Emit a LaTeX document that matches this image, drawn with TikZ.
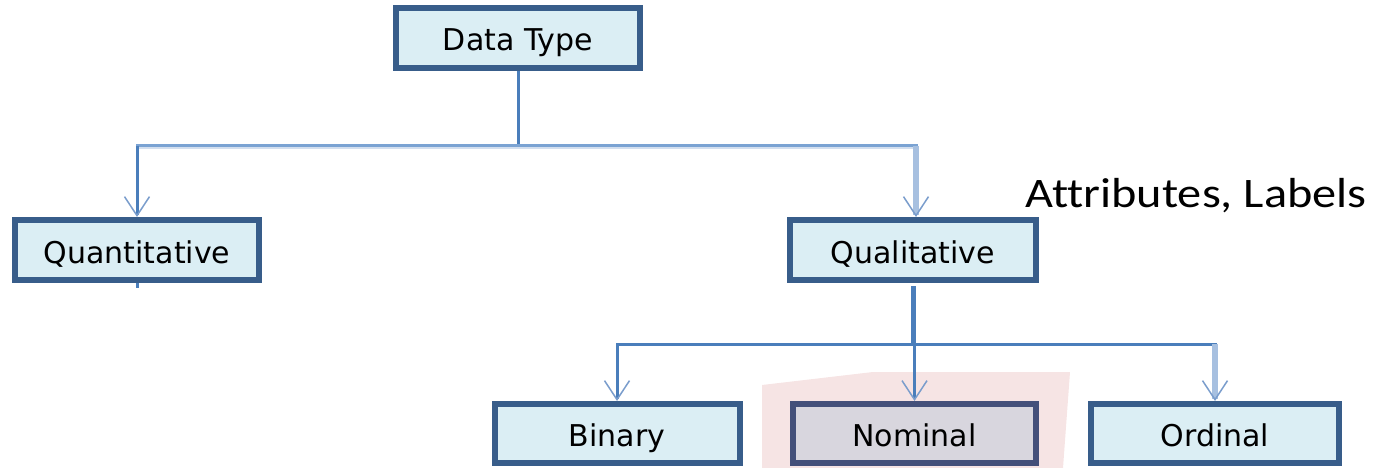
\documentclass[tikz,border=0pt]{standalone}
\usepackage{fontspec}
\setmainfont{DejaVu Sans}
\newfontfamily\labelfont[Ligatures=NoCommon]{Carlito}
\usetikzlibrary{arrows.meta}

\definecolor{boxline}{HTML}{385D8A}
\definecolor{boxfill}{HTML}{DBEEF4}
\definecolor{selline}{HTML}{44507A}
\definecolor{selfill}{HTML}{D8D6DE}
\definecolor{linkblue}{HTML}{4A7EBB}
\definecolor{linklight}{HTML}{A7C0E0}
\definecolor{linkmid}{HTML}{7BA3D3}
\definecolor{linkshade}{HTML}{D3DFEF}
\definecolor{tipcol}{HTML}{7A9DCC}
\definecolor{haze}{HTML}{F6E4E4}

\begin{document}
\begin{tikzpicture}[x=1pt,y=-1pt,
  box/.style={draw=boxline, fill=boxfill, line width=6pt,
    minimum width=244pt, minimum height=60pt, inner sep=0pt,
    text height=30pt, text depth=4pt,
    font=\fontsize{30}{36}\selectfont, text=black},
  sel/.style={box, draw=selline, fill=selfill},
  conn/.style={draw=linkblue, line width=3pt},
  lightconn/.style={draw=linklight, line width=6pt},
  arrowv/.style={-{Straight Barb[length=19pt,width=25pt,line width=1.5pt,color=tipcol]}},
]
\useasboundingbox (0,0) rectangle (1381,468);

% highlight patch behind the selected leaf
\fill[haze] (762,468) -- (762,385) -- (873,372) -- (1070,372) -- (1063,468) -- cycle;

% boxes
\node[box] (dt) at (518,38) {Data Type};
\node[box] (quant) at (137,250) {Quantitative};
\node[box, minimum width=246pt] (qual) at (913,250) {Qualitative};
\node[box, minimum width=245pt, minimum height=59pt] (bin) at (617,433.5) {Binary};
\node[sel, minimum width=243pt, minimum height=59pt] (nom) at (914.5,433.5) {Nominal};
\node[box, minimum width=248pt, minimum height=59pt] (ord) at (1215,433.5) {Ordinal};

% side label
\node[font=\labelfont\fontsize{42}{48}\selectfont, anchor=base west,
  xscale=1.15, inner sep=0pt] (attr) at (1025,207) {Attributes, Labels};

% first level connectors
\coordinate (j1) at (518,146);
\coordinate (jq) at (quant.north |- j1);
\coordinate (jl) at ([xshift=3pt]qual.north |- j1);
\draw[conn] (dt.south) -- (j1);
\draw[linkshade, line width=2pt, transform canvas={yshift=-2.5pt}] (jq) -- (jl);
\draw[linkmid, line width=3pt, line cap=rect] (jq) -- (jl);
\draw[conn, arrowv] (jq) -- (quant.north);
\draw[lightconn, arrowv] (jl) -- (jl |- qual.north);
\draw[conn] (quant.south) -- ++(0,5);

% second level connectors
\coordinate (j2) at (913,344);
\draw[conn, line width=5pt] ([yshift=-3pt]qual.south) -- (j2);
\draw[conn, line cap=rect] (bin.north |- j2) -- (ord.north |- j2);
\draw[conn, arrowv] (bin.north |- j2) -- (bin.north);
\draw[conn, arrowv] (nom.north |- j2) -- (nom.north);
\draw[lightconn, arrowv] (ord.north |- j2) -- (ord.north);
\end{tikzpicture}
\end{document}
